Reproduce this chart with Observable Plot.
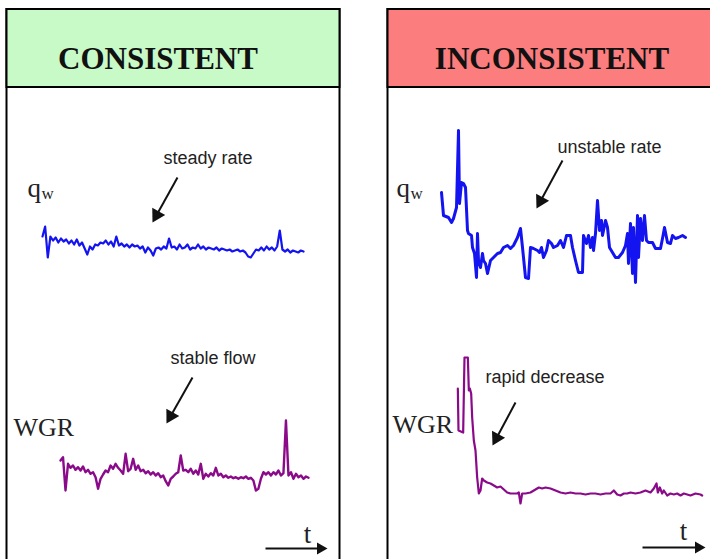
<!DOCTYPE html>
<html>
<head>
<meta charset="utf-8">
<script src="https://cdn.jsdelivr.net/npm/d3@7"></script>
<script src="https://cdn.jsdelivr.net/npm/@observablehq/plot@0.6"></script>
<style>
  html, body { margin: 0; padding: 0; background: white; }
  #chart { position: relative; width: 710px; height: 559px; overflow: hidden; background: white; }
</style>
</head>
<body>
<div id="chart"></div>
<script>
// ---------- DATA ----------
const panelTitles = ["CONSISTENT", "INCONSISTENT"];
const seriesLabels = ["q", "WGR"];
const annotations = ["steady rate", "unstable rate", "stable flow", "rapid decrease"];
const timeLabel = "t";

// Consistent well: water rate (uniform time steps)
const qwConsistent = [34,44,13,34,30,33,28,32,29,31,27,30,26,31,25,28,22,16,24,21,
  26,25,28,27,30,26,29,24,34,25,27,24,26,23,26,24,25,22,24,18,
  23,20,15,22,23,21,24,22,32,23,24,21,26,22,23,26,21,23,22,26,
  22,24,21,23,22,21,23,20,22,21,20,21,19,20,21,19,20,18,14,13,
  17,21,20,23,20,24,21,23,20,24,40,21,19,21,18,20,19,18,20,19];

// Consistent well: water-gas ratio (uniform time steps)
const wgrConsistent = [40,43.3,10,36.7,32.7,35,30.7,33.3,30,34,28.3,30.7,26.7,28.3,23.3,11.7,21.7,26,30,28.3,
  35,31.7,36.7,32.7,30,26.7,46.7,29.3,31.7,41.7,30.7,35,29.3,30.7,27.3,29.3,26,28.3,25,27.3,
  23.3,25,19.3,15,21.7,24,26.7,28.3,45,30,30.7,28.3,31.7,26.7,30,26,36.7,21.7,26.7,24,
  27.3,25,32.7,25,26.7,23.3,25,22.7,24,22.3,23.3,21.7,23.3,22.3,24,21.7,22.7,20,10,11.7,
  21.7,28.3,26,28.3,25,28.3,26,30,25,27.3,80,25,28.3,21.7,26.7,23.3,25,21.7,24,22.7];

// Inconsistent well: water rate (irregular time steps)
const qwInconsistentT = [0,2,7,10,12,15,17,18,20,22,24,26,27,30,31,33,35,36,37,39,
  41,42,44,46,49,52,56,59,62,66,69,72,76,79,81,84,87,89,92,96,
  98,100,102,105,107,110,112,116,119,122,125,129,131,134,137,141,142,145,147,149,
  151,152,154,156,158,160,161,164,166,168,171,174,177,181,184,186,187,189,191,192,
  194,196,197,199,201,203,205,207,211,214,219,221,223,226,229,231,234,237,241,244];
const qwInconsistent = [98,75,73,68,72,83,160,87,108,107,103,60,57,55,43,37,13,57,30,23,
  37,30,27,17,30,33,37,38,43,45,42,45,53,62,43,13,12,43,42,40,
  38,43,33,40,50,47,43,45,50,43,55,55,43,30,18,18,55,47,55,43,
  53,40,57,90,60,70,55,70,63,43,38,33,33,38,45,57,27,67,17,63,
  8,75,33,72,50,75,50,48,48,42,42,52,63,48,47,55,52,53,55,53];

// Inconsistent well: water-gas ratio (irregular time steps)
const wgrInconsistentT = [22,24,38,42,52,55,58,62,65,70,75,80,85,90,95,100,110,120,130,140,
  150,160,170,180,190,200,205,210,215,225,240,255,265,275,285,300,315,330,345,360,
  375,390,405,420,435,450,465,480,490,500,510,520,530,540,555,570,585,600,610,618,
  622,628,635,640,650,660,670,680,690,700,710,720,735,750,755];
const wgrInconsistent = [112,70,68,143,143,110,112,107,83,60,50,23,7,10,22,20,18,17,15,13,
  14,11,8,7,7,7,8,-3,7,7,8,11,13,12,13,12,10,8,7,8,
  7,7,6,7,7,6,7,7,10,6,5,7,7,8,7,8,10,8,12,17,
  8,13,7,10,5,7,6,7,5,7,6,5,7,6,5];

// ---------- LAYOUT ----------
const W = 710, H = 559;
const serif = "Liberation Serif, Times New Roman, serif";
const sans = "Liberation Sans, Arial, sans-serif";
const baseStyle = {position: "absolute", left: "0px", top: "0px", background: "transparent", overflow: "hidden"};

const panels = [
  {title: panelTitles[0], x1: 6.5, x2: 339.5, cx: 157.5, fill: "#c8fac8"},
  {title: panelTitles[1], x1: 387.5, x2: 722, cx: 551.5, fill: "#fb7d7d"}
];
const headerY1 = 9, headerY2 = 87, bodyY2 = 600;

const qLabels = [{x: 27, y: 196}, {x: 396, y: 196}];
const wgrLabels = [{x: 13, y: 435}, {x: 392, y: 432}];
const notePos = [
  {text: annotations[0], x: 163, y: 163, x1: 177, y1: 177, x2: 152, y2: 222, r: 5.5},
  {text: annotations[1], x: 557, y: 152, x1: 562, y1: 160, x2: 536, y2: 208, r: 5.5},
  {text: annotations[2], x: 170, y: 363, x1: 192, y1: 377, x2: 166, y2: 423, r: 5.5},
  {text: annotations[3], x: 485, y: 382, x1: 515, y1: 402, x2: 492, y2: 445, r: 5.5}
];
const timeAxes = [
  {x: 307, y: 542, x1: 265, y1: 548, x2: 327, y2: 548, r: 4.5},
  {x: 683, y: 539, x1: 642, y1: 547, x2: 705, y2: 547, r: 4.5}
];

// filled arrow head geometry (triangle centroid sits 2/3 of its height behind the tip)
function head(d) {
  const dx = d.x2 - d.x1, dy = d.y2 - d.y1, L = Math.hypot(dx, dy);
  const ux = dx / L, uy = dy / L;
  const side = Math.sqrt(4 * Math.PI * d.r * d.r / Math.sqrt(3));
  const back = side * Math.sqrt(3) / 2 * 2 / 3;
  return {cx: d.x2 - ux * back, cy: d.y2 - uy * back, angle: Math.atan2(dx, -dy) * 180 / Math.PI};
}
const arrows = [...notePos, ...timeAxes].map(d => ({...d, ...head(d)}));

const layout = Plot.plot({
  width: W, height: H, margin: 0,
  style: baseStyle,
  x: {domain: [0, W], range: [0, W], axis: null},
  y: {domain: [0, H], range: [0, H], axis: null},
  r: {type: "identity"},
  marks: [
    Plot.rect(panels, {x1: "x1", x2: "x2", y1: headerY1, y2: bodyY2, fill: "white", stroke: "black", strokeWidth: 2}),
    Plot.rect(panels, {x1: "x1", x2: "x2", y1: headerY1, y2: headerY2, fill: "fill", stroke: "black", strokeWidth: 2}),
    Plot.text(panels, {x: "cx", y: 68, text: "title", fontFamily: serif, fontWeight: "bold", fontSize: 31, fill: "#111", lineAnchor: "bottom", textAnchor: "middle"}),
    Plot.text(qLabels, {x: "x", y: "y", text: () => seriesLabels[0], fontFamily: serif, fontSize: 27, fill: "#222", lineAnchor: "bottom", textAnchor: "start"}),
    Plot.text(qLabels, {x: d => d.x + 14, y: d => d.y + 2, text: () => "w", fontFamily: serif, fontSize: 17, fill: "#222", lineAnchor: "bottom", textAnchor: "start"}),
    Plot.text(wgrLabels, {x: "x", y: "y", text: () => seriesLabels[1], fontFamily: serif, fontSize: 26, fill: "#222", lineAnchor: "bottom", textAnchor: "start"}),
    Plot.text(notePos, {x: "x", y: "y", text: "text", fontFamily: sans, fontSize: 18, fill: "#222", lineAnchor: "bottom", textAnchor: "start"}),
    Plot.text(timeAxes, {x: "x", y: "y", text: () => timeLabel, fontFamily: serif, fontSize: 27, fill: "#222", lineAnchor: "bottom", textAnchor: "middle"}),
    Plot.link(arrows, {x1: "x1", y1: "y1", x2: "cx", y2: "cy", stroke: "#111", strokeWidth: 2}),
    Plot.dot(arrows, {x: "cx", y: "cy", r: "r", symbol: "triangle", rotate: "angle", fill: "#111", stroke: "none"})
  ]
});

function seriesPlot(t, v, xDomain, xRange, yRange, color, sw) {
  const rows = v.map((val, i) => ({t: t ? t[i] : i, v: val}));
  return Plot.plot({
    width: W, height: H, margin: 0,
    style: baseStyle,
    x: {domain: xDomain, range: xRange, axis: null},
    y: {domain: [0, 100], range: yRange, axis: null},
    marks: [Plot.line(rows, {x: "t", y: "v", stroke: color, strokeWidth: sw, strokeLinejoin: "round"})]
  });
}

const blue = "#1414f0", purple = "#8a0a8a";
const chart = document.getElementById("chart");
chart.append(
  layout,
  seriesPlot(null, qwConsistent, [0, qwConsistent.length - 1], [42, 303], [270, 170], blue, 2.2),
  seriesPlot(null, wgrConsistent, [0, wgrConsistent.length - 1], [60, 308], [500, 400], purple, 2.4),
  seriesPlot(qwInconsistentT, qwInconsistent, [0, 244], [441, 685], [290, 190], blue, 3),
  seriesPlot(wgrInconsistentT, wgrInconsistent, [0, 765], [450, 705], [500, 400], purple, 2.2)
);
</script>
</body>
</html>
